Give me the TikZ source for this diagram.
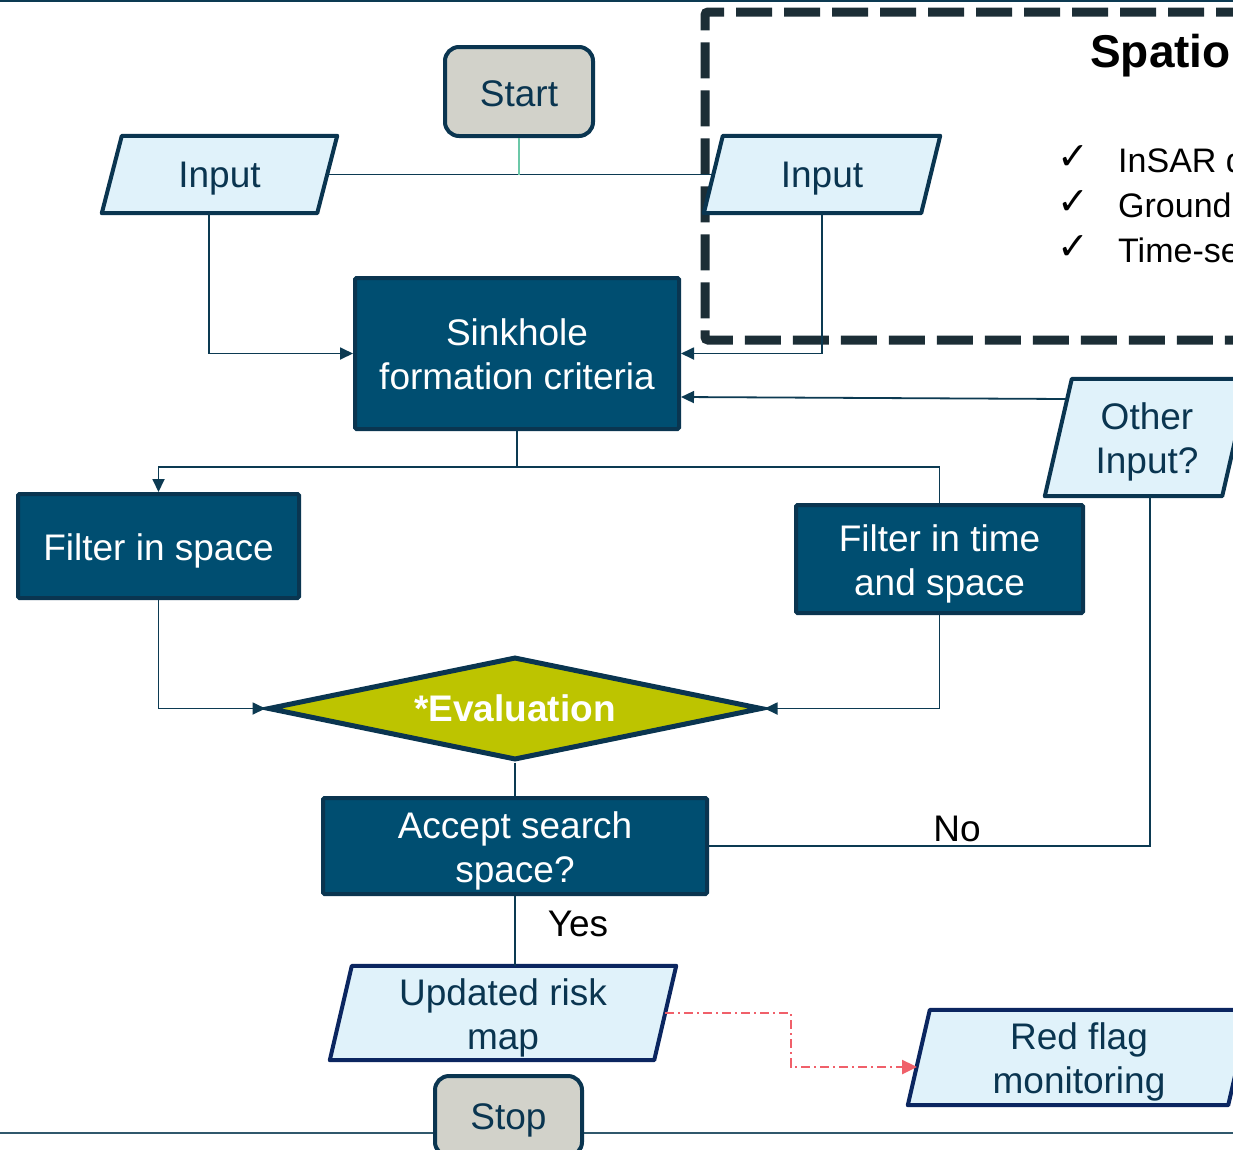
\documentclass[tikz,border=0pt]{standalone}
\usepackage{fontspec}
\setmainfont{Liberation Sans}
\newfontfamily\djv{DejaVu Sans}
\usetikzlibrary{arrows.meta,shapes.geometric,calc,backgrounds}
\definecolor{bordc}{HTML}{0A3550}
\definecolor{navyc}{HTML}{0B2660}
\definecolor{boxc}{HTML}{004E71}
\definecolor{lightc}{HTML}{E0F2FA}
\definecolor{termc}{HTML}{D2D2CA}
\definecolor{txtc}{HTML}{0A3550}
\definecolor{connc}{HTML}{0C3A52}
\definecolor{greenc}{HTML}{6CC8A8}
\definecolor{dashc}{HTML}{1C2E36}
\definecolor{evalc}{HTML}{BDC400}
\definecolor{redc}{HTML}{F0606A}
\newcommand\bigtxt{\fontsize{37}{44}\selectfont}
\tikzset{
  boxdark/.style={rectangle, draw=bordc, line width=4pt, fill=boxc, inner sep=0pt, rounded corners=1.5pt},
  termbox/.style={rectangle, rounded corners=14pt, draw=bordc, line width=4pt, fill=termc, inner sep=0pt},
  parabox/.style={rectangle, inner sep=0pt},
  parashape/.style={draw=bordc, line width=4pt, fill=lightc, line join=round},
  wtxt/.style={inner sep=0pt, align=center, font=\bigtxt, text=white},
  dtxt/.style={inner sep=0pt, align=center, font=\bigtxt, text=txtc},
  conn/.style={draw=connc, line width=1.8pt},
  arr/.style={conn, -{Triangle[length=13pt,width=12pt]}},
  lbl/.style={font=\bigtxt, text=black, inner sep=0pt},
  cktxt/.style={inner sep=0pt, font=\djv\fontsize{38}{40}\selectfont},
  listtxt/.style={anchor=base west, inner sep=0pt, font=\fontsize{34}{40}\selectfont},
}
\newcommand\paradraw[3]{%
  \begin{scope}[on background layer]
  \draw[parashape, draw=#3] ([xshift=#2]#1.north west) -- ([xshift=#2]#1.north east) -- ([xshift=-#2]#1.south east) -- ([xshift=-#2]#1.south west) -- cycle;
  \end{scope}}
\begin{document}
\begin{tikzpicture}[x=1pt,y=-1pt]
\useasboundingbox (0,0) rectangle (1233,1149);
% frame lines and dashed region
\begin{scope}[on background layer]
\fill[white] (0,0) rectangle (1233,1149);
\draw[draw=connc, line width=2.5pt] (0,1) -- (1233,1) coordinate (topR);
\draw[draw=connc!85, line width=2pt] (0,1133) -- (1233,1133) coordinate (botR);
\draw[draw=dashc, line width=9pt, dash pattern=on 36pt off 12pt, rounded corners=3pt] (1300,12) -- (705,12) -- (705,340) -- (1300,340);
\end{scope}
% spatio text
\node[anchor=base west, inner sep=0pt, font=\fontsize{46}{50}\selectfont\bfseries] (spat) at (1090,67) {Spatio};
\node[cktxt] (ck1) at (1073,158) {✓};
\node[cktxt] (ck2) at (1073,203) {✓};
\node[cktxt] (ck3) at (1073,248) {✓};
\node[listtxt] (l1) at (1118,172) {InSAR d};
\node[listtxt] (l2) at (1118,217) {Ground};
\node[listtxt] (l3) at (1118,262) {Time-se};
% shapes
\node[termbox, minimum width=148pt, minimum height=89pt] (start) at (519,91.5) {};
\node[dtxt] (startT) at ([yshift=-2pt]start.center) {Start};
\node[parabox, minimum width=215pt, minimum height=77pt] (inL) at (219.5,174.5) {};
\paradraw{inL}{10}{bordc}
\node[dtxt] (inLT) at ([yshift=-4.5pt]inL.center) {Input};
\node[parabox, minimum width=217pt, minimum height=77pt] (inR) at (822,174.5) {};
\paradraw{inR}{9.5}{bordc}
\node[dtxt] (inRT) at ([yshift=-4.5pt]inR.center) {Input};
\node[boxdark, minimum width=324pt, minimum height=151pt] (sink) at (517,353.5) {};
\node[wtxt] (sinkT) at ([yshift=-0.5pt]sink.center) {Sinkhole\\formation criteria};
\node[parabox, minimum width=177pt, minimum height=117pt] (oin) at (1147,437.5) {};
\paradraw{oin}{13.5}{bordc}
\node[dtxt] (oinT) at ([yshift=-4.5pt]oin.center) {Other\\Input?};
\node[boxdark, minimum width=281pt, minimum height=104pt] (fs) at (158.5,546) {};
\node[wtxt] (fsT) at ([yshift=-5pt]fs.center) {Filter in space};
\node[boxdark, minimum width=287pt, minimum height=108pt] (ft) at (939.5,559) {};
\node[wtxt] (ftT) at ([yshift=-4.5pt]ft.center) {Filter in time\\and space};
\node[diamond, aspect=4.8, draw=bordc, line width=5pt, fill=evalc, text=white, inner sep=0pt, minimum width=494pt, minimum height=103pt, font=\bigtxt\bfseries] (ev) at (515,708.5) {*Evaluation};
\node[boxdark, minimum width=384pt, minimum height=96pt] (acc) at (515,846) {};
\node[wtxt] (accT) at ([yshift=-5pt]acc.center) {Accept search\\space?};
\node[parabox, minimum width=324pt, minimum height=94pt] (urm) at (503,1013) {};
\paradraw{urm}{11}{navyc}
\node[dtxt] (urmT) at ([yshift=-5pt]urm.center) {Updated risk\\map};
\node[parabox, minimum width=320pt, minimum height=95pt] (rf) at (1079,1057.5) {};
\paradraw{rf}{11}{navyc}
\node[dtxt] (rfT) at ([yshift=-4pt]rf.center) {Red flag\\monitoring};
\node[termbox, minimum width=147pt, minimum height=80pt] (stop) at (508.5,1116) {};
\node[dtxt] (stopT) at ([yshift=-4pt]stop.center) {Stop};
% helper coordinates
\coordinate (split) at (517,467);
\coordinate (oinA) at (1067.4,399);
\coordinate (y397) at (0,397);
\coordinate (rfA) at (917,1067);
\coordinate (redmid) at (791,1040);
% connectors
\draw[conn] (inL.east) -- (inR.west);
\draw[draw=greenc, line width=1.8pt] (start.south) -- (start.south |- inL.east);
\draw[arr] ([xshift=-10.5pt]inL.south) |- (sink.west);
\draw[arr] (inR.south) |- (sink.east);
\draw[arr] (oinA) -- (sink.east |- y397);
\draw[conn] (sink.south) -- (split);
\draw[arr] (split) -| (fs.north);
\draw[conn] (split) -| (ft.north);
\draw[arr] (fs.south) |- (ev.west);
\draw[arr] (ft.south) |- (ev.east);
\draw[conn] (ev.south) -- (acc.north);
\draw[conn] (acc.east) -| ([xshift=3pt]oin.south);
\draw[conn] (acc.south) -- (acc.south |- urm.north);
\draw[draw=redc, line width=2.5pt, dash pattern=on 9pt off 4pt on 2pt off 4pt, -{Triangle[length=15pt,width=14pt]}] (urm.east) -| (redmid) |- (rfA);
% labels
\node[lbl] (nolbl) at (957,829) {No};
\node[lbl] (yeslbl) at (578,924) {Yes};
\end{tikzpicture}
\end{document}
